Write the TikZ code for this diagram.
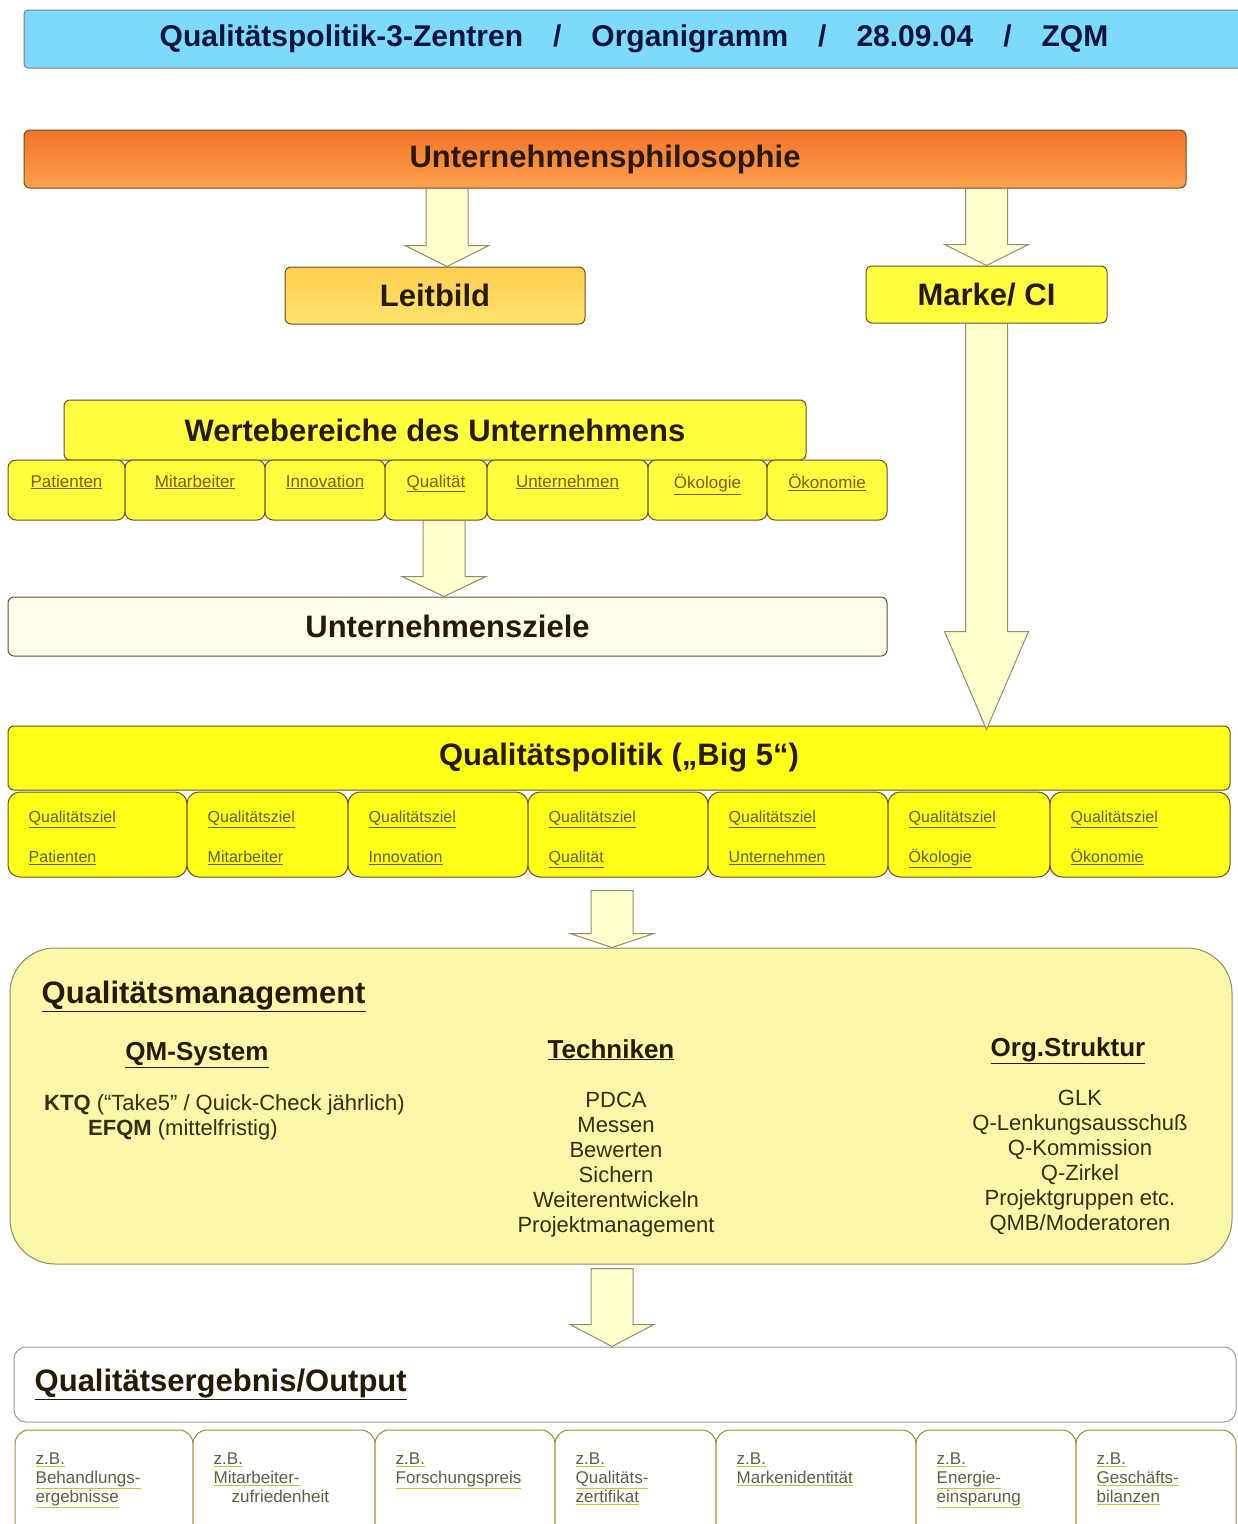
\documentclass[tikz,border=0pt]{standalone}
\usepackage{fontspec}
\setmainfont{Liberation Sans}
\usetikzlibrary{calc,positioning}

\definecolor{kopfblau}{RGB}{125,218,250}
\definecolor{kopftext}{RGB}{15,20,60}
\definecolor{orange1}{RGB}{242,116,40}
\definecolor{orange2}{RGB}{255,160,76}
\definecolor{leit1}{RGB}{255,206,80}
\definecolor{leit2}{RGB}{255,228,110}
\definecolor{gelb}{RGB}{255,255,64}
\definecolor{gelb2}{RGB}{255,255,24}
\definecolor{hellgelb}{RGB}{252,248,170}
\definecolor{pfeilgelb}{RGB}{255,255,205}
\definecolor{creme}{RGB}{255,252,238}
\definecolor{rahmen}{RGB}{100,80,40}
\definecolor{titeltext}{RGB}{40,25,5}
\definecolor{braun}{RGB}{135,85,15}
\definecolor{grautext}{RGB}{95,95,65}
\definecolor{dunkel}{RGB}{55,45,15}
\definecolor{oliv}{RGB}{160,140,50}
\definecolor{ulgelb}{RGB}{205,190,60}

% Blockpfeil: Start, Spitze, Kopflaenge
\newcommand{\pfeil}[3]{%
  \draw[pfeilform] ($(#1)+(-21,0)$) -- ($(#2)+(-21,-#3)$) -- ($(#2)+(-42,-#3)$) -- (#2)
    -- ($(#2)+(42,-#3)$) -- ($(#2)+(21,-#3)$) -- ($(#1)+(21,0)$) -- cycle;}
\newcommand{\gunter}[1]{{\color{ulgelb}\underline{\color{grautext}#1}}}

\begin{document}
\begin{tikzpicture}[x=1pt,y=-1pt,
  titel/.style={font=\fontsize{31}{36}\selectfont\bfseries, text=titeltext},
  feld/.style={draw=rahmen, line width=1pt, rounded corners=6pt, fill=gelb, titel},
  kopf/.style={draw=gray, line width=1pt, rounded corners=4pt, fill=kopfblau,
    font=\fontsize{30}{34}\selectfont\bfseries, text=kopftext},
  wfeld/.style={draw=rahmen, line width=1pt, rounded corners=8pt, fill=gelb, minimum height=60},
  wtext/.style={inner sep=0pt, font=\fontsize{17}{20}\selectfont, text=braun},
  qfeld/.style={draw=rahmen, line width=1pt, rounded corners=12pt, fill=gelb2, minimum height=85},
  qtext/.style={inner sep=0pt, anchor=north west, align=left, font=\fontsize{16}{40}\selectfont, text=grautext},
  efeld/.style={draw=oliv, line width=1pt, rounded corners=14pt, fill=white, minimum height=110},
  etext/.style={inner sep=0pt, anchor=north west, align=left, font=\fontsize{17}{19}\selectfont, text=grautext},
  kopfzeile/.style={inner sep=0pt, font=\fontsize{26}{30}\selectfont\bfseries, text=titeltext},
  liste/.style={inner sep=0pt, anchor=north, align=center, font=\fontsize{22}{25}\selectfont, text=dunkel},
  pfeilform/.style={draw=gray!80!olive, line width=1pt, fill=pfeilgelb, line join=miter}]

\useasboundingbox (0,0) rectangle (1238,1524);

\node[kopf, minimum width=1230, minimum height=58] (kopf) at (639,39)
  {\raisebox{-2pt}{\hspace*{-10pt}Qualitätspolitik-3-Zentren\hspace{30pt}/\hspace{30pt}Organigramm\hspace{30pt}/\hspace{30pt}28.09.04\hspace{30pt}/\hspace{30pt}ZQM}};

\node[feld, top color=orange1, bottom color=orange2, minimum width=1162, minimum height=58] (philo) at (605,159) {Unternehmensphilosophie};
\node[feld, top color=leit1, bottom color=leit2, minimum width=300, minimum height=57] (leit) at (435,295.5) {Leitbild};
\node[feld, minimum width=241, minimum height=57] (marke) at (986.5,294.5) {Marke/ CI};

\node[feld, minimum width=742, minimum height=60] (werte) at (435,430) {Wertebereiche des Unternehmens};
\foreach \n/\xa/\xb/\t in {w1/8/125/Patienten, w2/125/265/Mitarbeiter, w3/265/385/Innovation,
    w4/385/487/Qualität, w5/487/648/Unternehmen, w6/648/767/Ökologie, w7/767/887/Ökonomie}
{
  \pgfmathsetmacro\mx{(\xa+\xb)/2}
  \pgfmathsetmacro\bw{\xb-\xa}
  \node[wfeld, minimum width=\bw] (\n) at (\mx,490) {};
  \node[wtext, below=15pt of \n.north] {\underline{\t}};
}

\node[feld, fill=creme, minimum width=879, minimum height=59] (ziele) at (447.5,626.5) {Unternehmensziele};

\node[feld, fill=gelb2, minimum width=1222, minimum height=64] (big5) at (619,758) {Qualitätspolitik („Big 5“)};
\foreach \n/\xa/\xb/\t in {q1/8/187/Patienten, q2/187/348/Mitarbeiter, q3/348/528/Innovation,
    q4/528/708/Qualität, q5/708/888/Unternehmen, q6/888/1050/Ökologie, q7/1050/1230/Ökonomie}
{
  \pgfmathsetmacro\mx{(\xa+\xb)/2}
  \pgfmathsetmacro\bw{\xb-\xa}
  \node[qfeld, minimum width=\bw] (\n) at (\mx,834.5) {};
  \node[qtext] at ([shift={(21,19)}]\n.north west) {\underline{Qualitätsziel}\\\underline{\t}};
}

% Qualitaetsmanagement
\node[draw=gray!70!olive, line width=1pt, rounded corners=45pt, fill=hellgelb,
  minimum width=1222, minimum height=316] (qm) at (621,1106) {};
\node[titel, inner sep=0pt, anchor=base west] (qmtitel) at ([shift={(32,56)}]qm.north west) {\underline{Qualitätsmanagement}};
\node[kopfzeile, anchor=base] (qmsys) at (197,1060) {\underline{QM-System}};
\node[kopfzeile, anchor=base] (tech) at (611,1058) {\underline{Techniken}};
\node[kopfzeile, anchor=base] (org) at (1068,1056) {\underline{Org.Struktur}};
\node[liste, anchor=base west] (ktq) at (44,1110) {\textbf{KTQ} (“Take5” / Quick-Check jährlich)};
\node[liste, anchor=base west] (efqm) at (88,1135) {\textbf{EFQM} (mittelfristig)};
\node[liste] (techliste) at (616,1092) {PDCA\\Messen\\Bewerten\\Sichern\\Weiterentwickeln\\Projektmanagement};
\node[liste] (orgliste) at (1080,1090) {GLK\\Q-Lenkungsausschuß\\Q-Kommission\\Q-Zirkel\\Projektgruppen etc.\\QMB/Moderatoren};

% Ergebnis
\node[draw=gray!80, line width=1pt, rounded corners=12pt, fill=white,
  minimum width=1222, minimum height=75] (output) at (625,1384.5) {};
\node[titel, inner sep=0pt, anchor=base west] (outtitel) at ([shift={(21,45)}]output.north west) {\underline{Qualitätsergebnis/Output}};
\foreach \n/\xa/\xb/\t in {e1/15/193/{\gunter{z.B.}\\\gunter{Behandlungs-}\\\gunter{ergebnisse}},
    e2/193/375/{\gunter{z.B.}\\\gunter{Mitarbeiter-}\\\hspace*{18pt}zufriedenheit},
    e3/375/555/{\gunter{z.B.}\\\gunter{Forschungspreis}},
    e4/555/716/{\gunter{z.B.}\\\gunter{Qualitäts-}\\\gunter{zertifikat}},
    e5/716/916/{\gunter{z.B.}\\\gunter{Markenidentität}},
    e6/916/1076/{\gunter{z.B.}\\\gunter{Energie-}\\\gunter{einsparung}},
    e7/1076/1236/{\gunter{z.B.}\\\gunter{Geschäfts-}\\\gunter{bilanzen}}}
{
  \pgfmathsetmacro\mx{(\xa+\xb)/2}
  \pgfmathsetmacro\bw{\xb-\xa}
  \node[efeld, minimum width=\bw] (\n) at (\mx,1485) {};
  \node[etext] at ([shift={(21,23)}]\n.north west) {\t};
}

% Pfeile
\coordinate (t1) at ([xshift=12pt]leit.north);
\coordinate (s1) at (t1 |- philo.south);
\pfeil{s1}{t1}{21}
\coordinate (s2) at (marke.north |- philo.south);
\pfeil{s2}{marke.north}{21}
\coordinate (t3) at ([yshift=-4pt]marke.south |- big5.north);
\pfeil{marke.south}{t3}{98}
\coordinate (s4) at ([xshift=8pt]w4.south);
\coordinate (t4) at (s4 |- ziele.north);
\pfeil{s4}{t4}{20}
\coordinate (s5) at ([shift={(-6,13)}]q4.south);
\coordinate (t5) at (s5 |- qm.north);
\pfeil{s5}{t5}{14}
\coordinate (s6) at ([yshift=-4pt]qm.south -| s5);
\coordinate (t6) at (s6 |- output.north);
\pfeil{s6}{t6}{22}

\end{tikzpicture}
\end{document}
